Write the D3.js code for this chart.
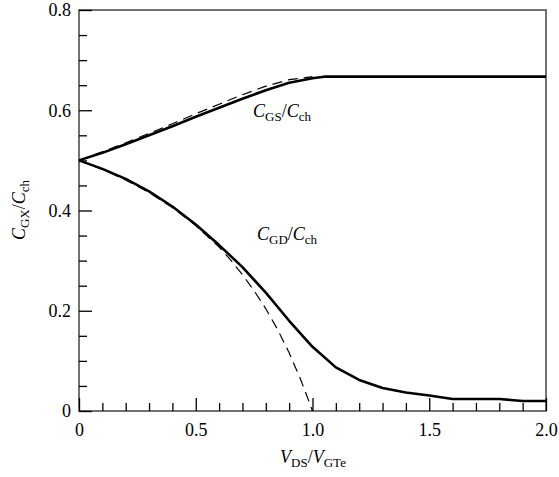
<!DOCTYPE html>
<html>
<head>
<meta charset="utf-8">
<script src="https://cdn.jsdelivr.net/npm/d3@7"></script>
<style>
  html, body { margin: 0; padding: 0; background: #fff; }
  svg { display: block; }
  text { font-family: "Liberation Serif", "Times New Roman", serif; fill: #000; }
</style>
</head>
<body>
<svg id="chart" width="559" height="477"></svg>
<script>
// Normalised drain voltage V_DS / V_GTe
const gsSolidX = [0, 0.1, 0.2, 0.3, 0.4, 0.5, 0.6, 0.7, 0.8, 0.9, 1.0, 1.05, 1.1, 1.5, 2.0];
const gsSolidY = [0.5, 0.515, 0.532, 0.55, 0.568, 0.587, 0.605, 0.623, 0.640, 0.655, 0.664, 0.667, 0.667, 0.667, 0.667];

const gsDashX = [0, 0.1, 0.2, 0.3, 0.4, 0.5, 0.6, 0.7, 0.8, 0.9, 1.0];
const gsDashY = [0.5, 0.517, 0.535, 0.554, 0.573, 0.593, 0.612, 0.631, 0.648, 0.661, 0.667];

const gdSolidX = [0, 0.1, 0.2, 0.3, 0.4, 0.5, 0.6, 0.7, 0.8, 0.9, 1.0, 1.1, 1.2, 1.3, 1.4, 1.5, 1.6, 1.7, 1.8, 1.9, 2.0];
const gdSolidY = [0.5, 0.483, 0.463, 0.438, 0.408, 0.372, 0.331, 0.287, 0.236, 0.180, 0.128, 0.087, 0.062, 0.046, 0.037, 0.031, 0.024, 0.024, 0.024, 0.020, 0.020];

const gdDashX = [0, 0.1, 0.2, 0.3, 0.4, 0.5, 0.6, 0.65, 0.7, 0.75, 0.8, 0.85, 0.9, 0.95, 1.0];
const gdDashY = [0.5, 0.482, 0.461, 0.436, 0.406, 0.370, 0.327, 0.301, 0.272, 0.240, 0.204, 0.163, 0.116, 0.062, 0];

const xMajorTicks = [0, 0.5, 1.0, 1.5, 2.0];
const xTickLabels = ["0", "0.5", "1.0", "1.5", "2.0"];
const yMajorTicks = [0, 0.2, 0.4, 0.6, 0.8];
const yTickLabels = ["0", "0.2", "0.4", "0.6", "0.8"];

const svg = d3.select("#chart");
const plotLeft = 79, plotRight = 546, plotTop = 10, plotBottom = 411;

const x = d3.scaleLinear().domain([0, 2]).range([plotLeft, plotRight]);
const y = d3.scaleLinear().domain([0, 0.8]).range([plotBottom, plotTop]);

const xMinor = d3.range(0, 21).map(i => i / 10).filter(v => !xMajorTicks.some(m => Math.abs(m - v) < 1e-9));
const yMinor = d3.range(0, 17).map(i => i / 20).filter(v => !yMajorTicks.some(m => Math.abs(m - v) < 1e-9));

// Frame
svg.append("rect")
  .attr("x", plotLeft).attr("y", plotTop)
  .attr("width", plotRight - plotLeft).attr("height", plotBottom - plotTop)
  .attr("fill", "none").attr("stroke", "#444").attr("stroke-width", 1.5);

// Bottom axis: minor ticks, then labelled major ticks (all pointing inward)
const gx = svg.append("g").attr("transform", `translate(0,${plotBottom})`);
gx.append("g").call(d3.axisBottom(x).tickValues(xMinor).tickSize(-8).tickFormat(""))
  .call(g => g.select(".domain").remove());
gx.append("g").call(d3.axisBottom(x).tickValues(xMajorTicks).tickSize(-13).tickPadding(8)
    .tickFormat((d, i) => xTickLabels[i]))
  .call(g => g.select(".domain").remove());
gx.selectAll("line").attr("stroke", "#000").attr("stroke-width", 1.3);
gx.selectAll("text").attr("font-size", 18).attr("dy", "0.95em");

// Left axis
const gy = svg.append("g").attr("transform", `translate(${plotLeft},0)`);
gy.append("g").call(d3.axisLeft(y).tickValues(yMinor).tickSize(-8).tickFormat(""))
  .call(g => g.select(".domain").remove());
gy.append("g").call(d3.axisLeft(y).tickValues(yMajorTicks).tickSize(-13).tickPadding(8)
    .tickFormat((d, i) => yTickLabels[i]))
  .call(g => g.select(".domain").remove());
gy.selectAll("line").attr("stroke", "#000").attr("stroke-width", 1.3);
gy.selectAll("text").attr("font-size", 18);

// Curves
const line = d3.line().x(d => x(d[0])).y(d => y(d[1]));
const zip = (a, b) => a.map((v, i) => [v, b[i]]);

svg.append("path").datum(zip(gsDashX, gsDashY)).attr("d", line)
  .attr("fill", "none").attr("stroke", "#000").attr("stroke-width", 1.2).attr("stroke-dasharray", "10,6");
svg.append("path").datum(zip(gdDashX, gdDashY)).attr("d", line)
  .attr("fill", "none").attr("stroke", "#000").attr("stroke-width", 1.2).attr("stroke-dasharray", "10,6");
svg.append("path").datum(zip(gsSolidX, gsSolidY)).attr("d", line)
  .attr("fill", "none").attr("stroke", "#000").attr("stroke-width", 2.6).attr("stroke-linejoin", "round");
svg.append("path").datum(zip(gdSolidX, gdSolidY)).attr("d", line)
  .attr("fill", "none").attr("stroke", "#000").attr("stroke-width", 2.6).attr("stroke-linejoin", "round");

// Ratio label helper: italic main letter with roman subscripts
function ratioLabel(sel, a, aSub, b, bSub) {
  sel.append("tspan").attr("font-style", "italic").text(a);
  sel.append("tspan").attr("font-size", 13).attr("dy", 4).text(aSub);
  sel.append("tspan").attr("dy", -4).text("/");
  sel.append("tspan").attr("font-style", "italic").text(b);
  sel.append("tspan").attr("font-size", 13).attr("dy", 4).text(bSub);
}

ratioLabel(svg.append("text").attr("x", 253).attr("y", 117).attr("font-size", 18), "C", "GS", "C", "ch");
ratioLabel(svg.append("text").attr("x", 257).attr("y", 240).attr("font-size", 18), "C", "GD", "C", "ch");

// Axis titles
ratioLabel(svg.append("text").attr("x", 313).attr("y", 463).attr("font-size", 18).attr("text-anchor", "middle"),
  "V", "DS", "V", "GTe");
ratioLabel(svg.append("text").attr("transform", "translate(25,210) rotate(-90)")
  .attr("font-size", 18).attr("text-anchor", "middle"), "C", "GX", "C", "ch");
</script>
</body>
</html>
